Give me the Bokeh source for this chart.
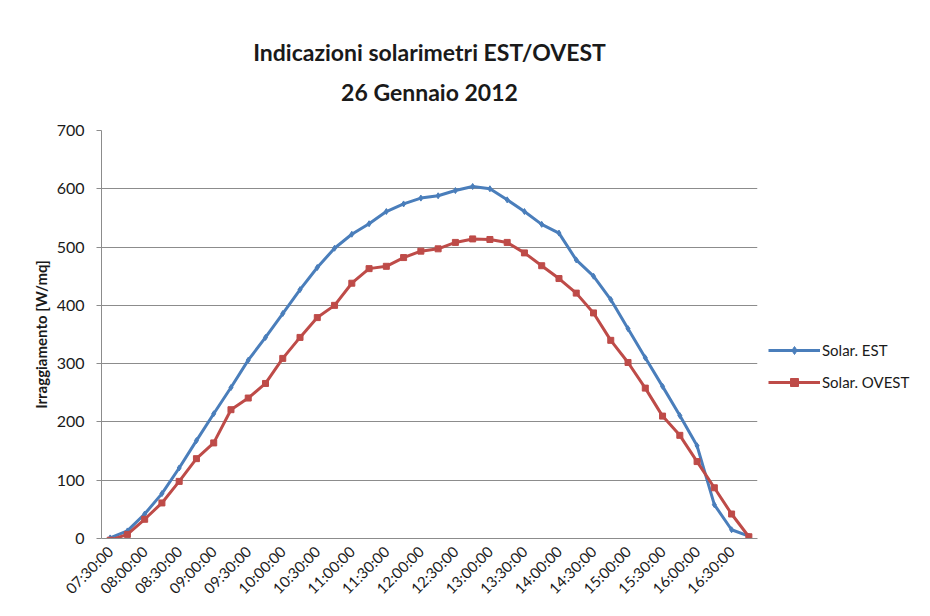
from bokeh.plotting import figure
from bokeh.models import Range1d, Legend, LegendItem, Title, SingleIntervalTicker, FixedTicker
from bokeh.embed import file_html
from bokeh.resources import INLINE
import math

times = ["07:30:00", "07:45:00", "08:00:00", "08:15:00", "08:30:00", "08:45:00",
         "09:00:00", "09:15:00", "09:30:00", "09:45:00", "10:00:00", "10:15:00",
         "10:30:00", "10:45:00", "11:00:00", "11:15:00", "11:30:00", "11:45:00",
         "12:00:00", "12:15:00", "12:30:00", "12:45:00", "13:00:00", "13:15:00",
         "13:30:00", "13:45:00", "14:00:00", "14:15:00", "14:30:00", "14:45:00",
         "15:00:00", "15:15:00", "15:30:00", "15:45:00", "16:00:00", "16:15:00",
         "16:30:00", "16:45:00"]

solar_est = [1, 13, 42, 77, 121, 168, 214, 259, 306, 345, 386, 427, 465, 498,
             522, 540, 561, 574, 584, 588, 597, 604, 600, 581, 561, 539, 524,
             478, 450, 410, 360, 310, 261, 211, 159, 58, 15, 4]

solar_ovest = [-3, 7, 33, 61, 98, 137, 164, 221, 241, 266, 309, 345, 379, 400,
               438, 463, 467, 482, 493, 497, 508, 514, 513, 508, 490, 468, 446,
               421, 387, 340, 302, 258, 210, 177, 132, 87, 42, 3]

title_text = "Indicazioni solarimetri EST/OVEST\n26 Gennaio 2012"
y_label = "Irraggiamento [W/mq]"

BLUE = "#4A7EBB"
RED = "#BE4B48"
GRID = "#8C8C8C"
TXT = "#1a1a1a"
FONT = "Lato"

idx = list(range(len(times)))

p = figure(frame_width=656, frame_height=408,
           x_range=Range1d(-0.5, len(times) - 0.5),
           y_range=Range1d(0, 700),
           output_backend="svg", toolbar_location=None,
           min_border_left=101, min_border_right=173,
           min_border_top=130, min_border_bottom=78,
           title=None)

p.background_fill_color = "white"
p.border_fill_color = "white"
p.outline_line_color = None

t = Title(text=title_text, align="center", text_align="center", text_font=FONT,
          text_font_size="23px", text_font_style="bold", text_color=TXT,
          text_line_height=1.42, standoff=49)
p.add_layout(t, "above")

l1 = p.line(idx, solar_est, line_color=BLUE, line_width=3)
s1 = p.scatter(idx, solar_est, marker="diamond", size=6, fill_color=BLUE, line_color=BLUE)
l2 = p.line(idx, solar_ovest, line_color=RED, line_width=3)
s2 = p.scatter(idx, solar_ovest, marker="square", size=6, fill_color=RED, line_color=RED)

# y axis
p.yaxis.ticker = SingleIntervalTicker(interval=100)
p.yaxis.axis_line_color = GRID
p.yaxis.major_tick_line_color = GRID
p.yaxis.major_tick_out = 5
p.yaxis.major_tick_in = 0
p.yaxis.minor_tick_line_color = None
p.yaxis.major_label_text_font = FONT
p.yaxis.major_label_text_font_size = "16px"
p.yaxis.major_label_text_color = TXT
p.yaxis.major_label_standoff = 12
p.yaxis.axis_label = y_label
p.yaxis.axis_label_text_font = FONT
p.yaxis.axis_label_text_font_size = "15px"
p.yaxis.axis_label_text_font_style = "bold"
p.yaxis.axis_label_text_color = TXT
p.yaxis.axis_label_standoff = 4

# x axis
p.xaxis.ticker = FixedTicker(ticks=idx[::2])
p.xaxis.major_label_overrides = {i: times[i] for i in idx[::2]}
p.xaxis.axis_line_color = GRID
p.xaxis.major_tick_line_color = None
p.xaxis.minor_tick_line_color = None
p.xaxis.major_label_orientation = math.pi / 4
p.xaxis.major_label_text_font = FONT
p.xaxis.major_label_text_font_size = "15px"
p.xaxis.major_label_text_color = TXT
p.xaxis.major_label_standoff = 4

p.xgrid.grid_line_color = None
p.ygrid.grid_line_color = GRID
p.ygrid.grid_line_width = 1

legend = Legend(items=[LegendItem(label="Solar. EST", renderers=[l1, s1]),
                       LegendItem(label="Solar. OVEST", renderers=[l2, s2])],
                location=(11, 146), padding=0, margin=0, spacing=12,
                glyph_width=52, glyph_height=20, label_height=20,
                label_standoff=2, border_line_color=None,
                background_fill_alpha=0,
                label_text_font=FONT, label_text_font_size="15px",
                label_text_color=TXT)
p.add_layout(legend, "right")

open("out.html", "w").write(file_html(p, INLINE))
